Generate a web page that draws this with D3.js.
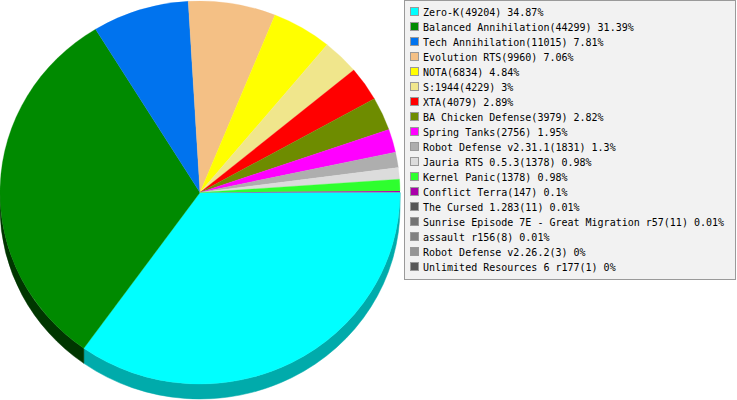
<!DOCTYPE html>
<html><head><meta charset="utf-8">
<script src="https://cdn.jsdelivr.net/npm/d3@7/dist/d3.min.js"></script>
<style>html,body{margin:0;padding:0;background:#fff;}svg{display:block;}</style>
</head><body>
<svg id="chart" width="737" height="400"></svg>
<script>
const categories = ["Zero-K","Balanced Annihilation","Tech Annihilation","Evolution RTS","NOTA","S:1944","XTA","BA Chicken Defense","Spring Tanks","Robot Defense v2.31.1","Jauria RTS 0.5.3","Kernel Panic","Conflict Terra","The Cursed 1.283","Sunrise Episode 7E - Great Migration r57","assault r156","Robot Defense v2.26.2","Unlimited Resources 6 r177"];
const values = [49204,44299,11015,9960,6834,4229,4079,3979,2756,1831,1378,1378,147,11,11,8,3,1];
const percentLabels = ["34.87%","31.39%","7.81%","7.06%","4.84%","3%","2.89%","2.82%","1.95%","1.3%","0.98%","0.98%","0.1%","0.01%","0.01%","0.01%","0%","0%"];
const colors = ["#00ffff","#008a00","#0073ee","#f4c085","#ffff00","#f0e68c","#ff0000","#6e8c00","#ff00ff","#aeaeae","#dcdcdc","#2eff2e","#aa00aa","#555555","#737373","#808080","#959595","#585858"];

const svg = d3.select("#chart");
const cx = 200, cy = 192.5, rx = 200, ry = 191.5, depth = 15;

const pie = d3.pie().value(d => d.v).sort(null);
const data = categories.map((c,i) => ({name:c, v:values[i], color:colors[i], pct:percentLabels[i]}));
const arcs = pie(data).map(a => ({...a, t0: a.startAngle, t1: a.endAngle}));

function pt(t, dy=0){ return [cx + rx*Math.cos(t), cy + dy + ry*Math.sin(t)]; }

// side walls (visible for screen angles 0..PI)
const sideG = svg.append("g");
arcs.forEach(a => {
  const s = Math.max(a.t0, 0), e = Math.min(a.t1, Math.PI);
  if (e <= s) return;
  const p0 = pt(s), p1 = pt(e), q1 = pt(e, depth), q0 = pt(s, depth);
  const path = `M${p0[0]},${p0[1]} A${rx},${ry} 0 0 1 ${p1[0]},${p1[1]} L${q1[0]},${q1[1]} A${rx},${ry} 0 0 0 ${q0[0]},${q0[1]} Z`;
  const c = d3.color(a.data.color);
  const side = d3.rgb(Math.max(0, c.r-84), Math.max(0, c.g-84), Math.max(0, c.b-84));
  sideG.append("path").attr("d", path).attr("fill", side).attr("stroke", side).attr("stroke-width", 0.5);
});

// top faces
const topG = svg.append("g");
arcs.forEach(a => {
  if (a.t1 - a.t0 <= 0) return;
  const p0 = pt(a.t0), p1 = pt(a.t1);
  const large = (a.t1 - a.t0) > Math.PI ? 1 : 0;
  const path = `M${cx},${cy} L${p0[0]},${p0[1]} A${rx},${ry} 0 ${large} 1 ${p1[0]},${p1[1]} Z`;
  const big = (a.t1 - a.t0) > 0.02;
  topG.append("path").attr("d", path).attr("fill", a.data.color)
    .attr("stroke", big ? a.data.color : "none").attr("stroke-width", 0.3);
});

// legend
const lg = svg.append("g");
const rowH = 15, y0 = 12;
lg.append("rect").attr("x", 404.5).attr("y", 0.5).attr("width", 331).attr("height", 279)
  .attr("fill", "#f2f2f2").attr("stroke", "#9a9a9a").attr("stroke-width", 1);
const y = d3.scalePoint().domain(categories).range([y0, y0 + rowH*(categories.length-1)]);
data.forEach(d => {
  const yy = y(d.name);
  lg.append("rect").attr("x", 410.5).attr("y", Math.round(yy) - 4.5).attr("width", 8).attr("height", 8)
    .attr("fill", d.color).attr("stroke", "#999").attr("stroke-width", 1);
  lg.append("text").attr("x", 423).attr("y", yy + 3.5)
    .attr("font-family", "DejaVu Sans Mono, monospace").attr("font-size", 10).attr("fill", "#000")
    .text(`${d.name}(${d.v}) ${d.pct}`);
});
</script>
</body></html>
